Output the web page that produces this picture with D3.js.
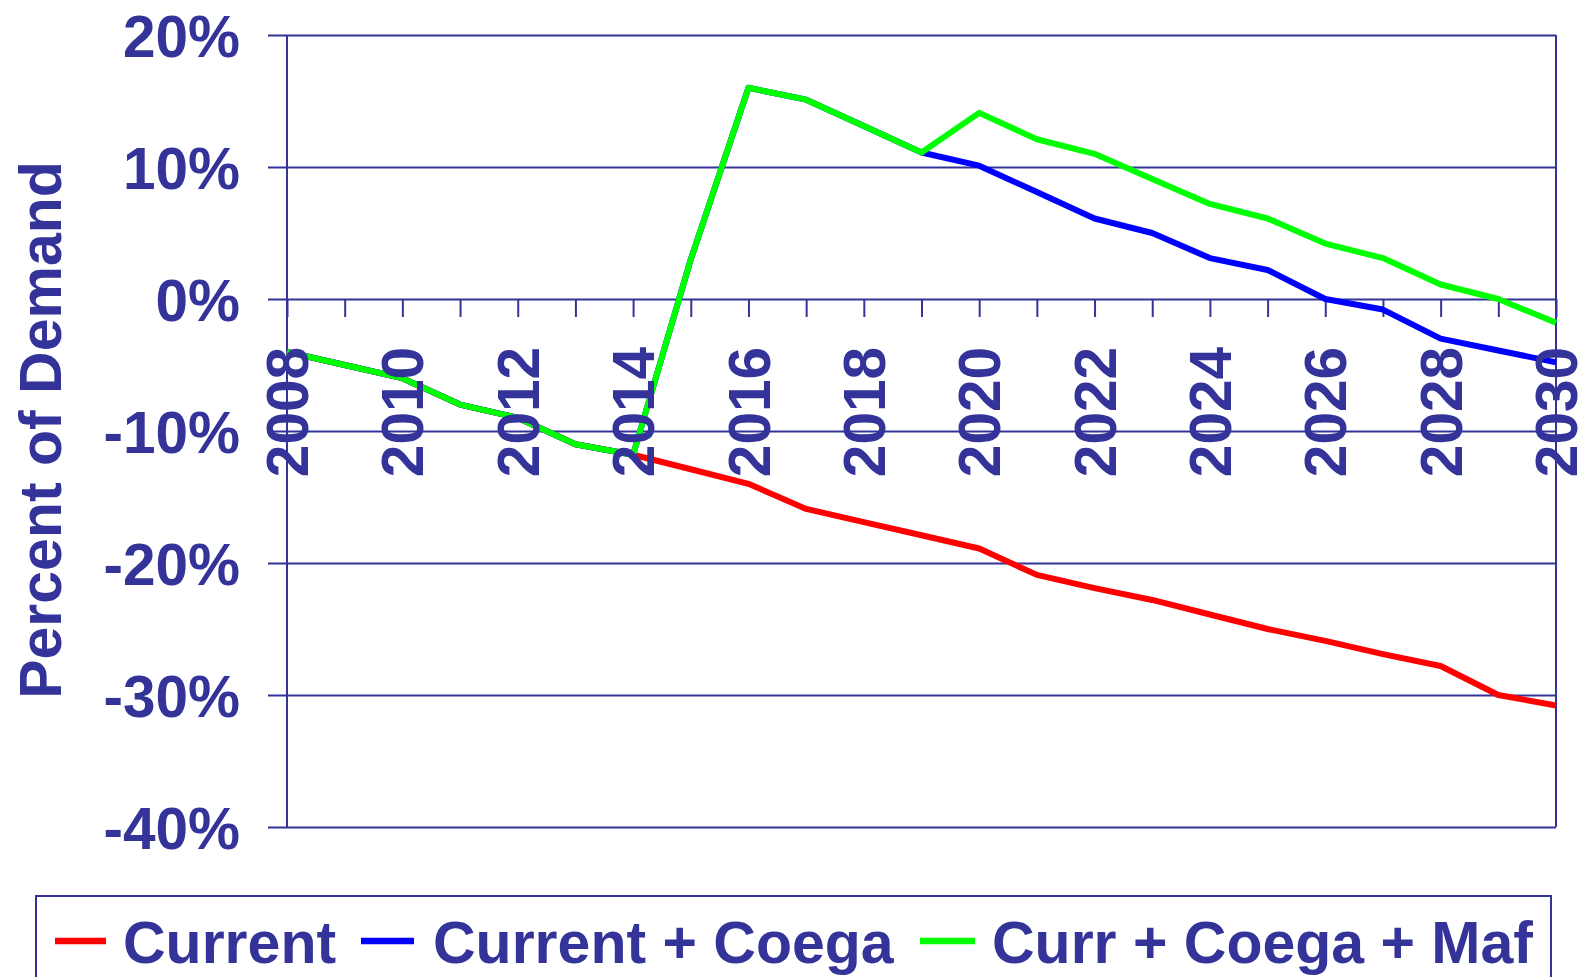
<!DOCTYPE html>
<html>
<head>
<meta charset="utf-8">
<script src="https://cdn.jsdelivr.net/npm/d3@7"></script>
<style>
html,body{margin:0;padding:0;background:#fff;}
svg{display:block;}
text{font-family:Arial,"Liberation Sans",sans-serif;font-weight:bold;fill:#333399;}
</style>
</head>
<body>
<svg id="chart" width="1579" height="977"></svg>
<script>
const years = d3.range(2008, 2031);
const yearLabels = ["2008","2010","2012","2014","2016","2018","2020","2022","2024","2026","2028","2030"];
const yTicks = [20, 10, 0, -10, -20, -30, -40];
const seriesNames = ["Current", "Current + Coega", "Curr + Coega + Maf"];
const seriesColors = ["#FF0000", "#0000FF", "#00FF00"];
const current = [-4, -5, -6, -8, -9, -11, -11.8, -12.9, -14, -15.9, -16.9, -17.9, -18.9, -20.9, -21.9, -22.8, -23.9, -25, -25.9, -26.9, -27.8, -30, -30.8];
const currentCoega = [-4, -5, -6, -8, -9, -11, -11.8, 3, 16, 15.1, 13.1, 11.1, 10.1, 8.1, 6.1, 5, 3.1, 2.2, 0, -0.8, -3, -3.9, -4.8];
const currCoegaMaf = [-4, -5, -6, -8, -9, -11, -11.8, 3, 16, 15.1, 13.1, 11.1, 14.1, 12.1, 11, 9.1, 7.2, 6.1, 4.2, 3.1, 1.1, 0, -1.8];
const allSeries = [current, currentCoega, currCoegaMaf];

const svg = d3.select("#chart");
const L = 287, R = 1556, T = 35, B = 827;
const x = d3.scaleLinear().domain([2008, 2030]).range([L, R]);
const y = d3.scaleLinear().domain([-40, 20]).range([B, T]);
const ink = "#333399";

// horizontal gridlines with left tick extension
const yAxis = d3.axisLeft(y).tickValues(yTicks).tickSize(-(R - L)).tickFormat(d => d + "%").tickPadding(0);
const gy = svg.append("g").attr("transform", `translate(${L},0)`).call(yAxis);
gy.select(".domain").remove();
gy.selectAll(".tick line").attr("x1", -19).attr("stroke", ink).attr("stroke-width", 2);
gy.selectAll(".tick text").attr("x", -47).attr("dy", "0.36em").style("font-size", "58.5px").attr("text-anchor", "end").attr("fill", ink);

// left and right vertical lines
svg.append("line").attr("x1", L).attr("x2", L).attr("y1", T).attr("y2", B).attr("stroke", ink).attr("stroke-width", 2);
svg.append("line").attr("x1", R).attr("x2", R).attr("y1", T).attr("y2", B).attr("stroke", ink).attr("stroke-width", 2);

// x axis at 0%
const xAxis = d3.axisBottom(x).tickValues(years).tickSize(18).tickFormat("");
const gx = svg.append("g").attr("transform", `translate(0,${y(0)})`).call(xAxis);
gx.select(".domain").remove();
gx.selectAll(".tick line").attr("stroke", ink).attr("stroke-width", 2);

// series lines
const line = d3.line().x((d, i) => x(years[i])).y(d => y(d));
allSeries.forEach((s, k) => {
  svg.append("path").datum(s).attr("d", line).attr("fill", "none")
    .attr("stroke", seriesColors[k]).attr("stroke-width", 6).attr("stroke-linejoin", "round");
});

// x labels (rotated) drawn on top
svg.append("g").selectAll("text").data(yearLabels).join("text")
  .attr("transform", d => `translate(${x(+d)},347) rotate(-90)`)
  .attr("text-anchor", "end").attr("dy", "0.36em")
  .style("font-size", "58.5px").text(d => d);

// y axis title
svg.append("text").attr("transform", "translate(61,430) rotate(-90)")
  .attr("text-anchor", "middle").style("font-size", "59px").text("Percent of Demand");

// legend
svg.append("rect").attr("x", 36).attr("y", 896).attr("width", 1515).attr("height", 100)
  .attr("fill", "none").attr("stroke", ink).attr("stroke-width", 2);
const legX = [[55, 106, 123], [361, 414, 433], [920, 975, 992]];
seriesNames.forEach((n, k) => {
  svg.append("line").attr("x1", legX[k][0]).attr("x2", legX[k][1]).attr("y1", 941).attr("y2", 941)
    .attr("stroke", seriesColors[k]).attr("stroke-width", 6.5);
  svg.append("text").attr("x", legX[k][2]).attr("y", 963).style("font-size", "59px").text(n);
});
</script>
</body>
</html>
